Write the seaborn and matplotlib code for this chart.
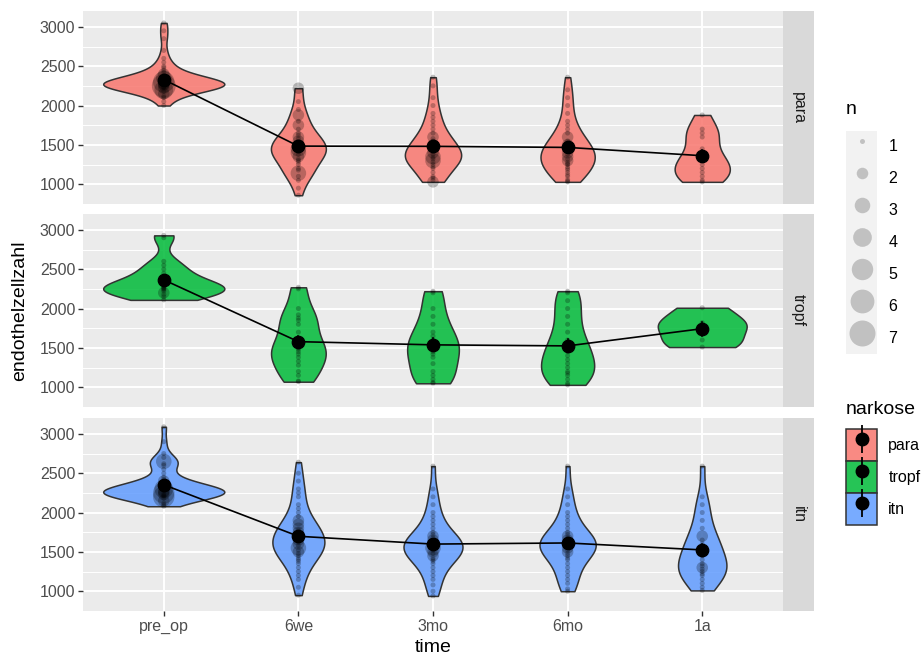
import matplotlib
matplotlib.use("Agg")
import matplotlib.pyplot as plt
import pandas as pd
import seaborn as sns
from matplotlib.patches import Patch
from matplotlib.lines import Line2D
from matplotlib.legend_handler import HandlerTuple
from matplotlib.ticker import MultipleLocator
from matplotlib.colors import to_rgba

# categorie
times = ["pre_op", "6we", "3mo", "6mo", "1a"]
groups = ["para", "tropf", "itn"]
colors = ["#F8766D", "#00BA38", "#619CFF"]

# valori (endothelzellzahl)
para_pre_op = [2000, 2050, 2100, 2120, 2150, 2150, 2180, 2200, 2200, 2200, 2220, 2220, 2230, 2240,
               2250, 2250, 2250, 2250, 2260, 2260, 2270, 2270, 2280, 2280, 2290, 2300, 2300, 2300,
               2310, 2320, 2330, 2340, 2350, 2350, 2360, 2380, 2400, 2400, 2420, 2450, 2480, 2500,
               2250, 2300, 2200, 2350, 2250, 2300,
               2550, 2600, 2700, 2850, 2950, 3050]
para_6we = [860, 950, 1050, 1100, 1140, 1140, 1140, 1180, 1200, 1250, 1280, 1300, 1320, 1350, 1380,
            1400, 1400, 1420, 1450, 1450, 1480, 1500, 1520, 1550, 1580, 1600, 1620, 1650, 1700, 1750,
            1750, 1800, 1880, 1880, 1950, 2050, 2220, 2220, 1400, 1500, 1350, 1550, 1450, 1600]
para_3mo = [1030, 1030, 1050, 1080, 1100, 1150, 1200, 1220, 1250, 1280, 1300, 1300, 1320, 1340, 1350,
            1350, 1380, 1400, 1420, 1450, 1480, 1500, 1520, 1550, 1580, 1600, 1650, 1700, 1750, 1800,
            1850, 1900, 2000, 2100, 2250, 2360, 1300, 1350, 1400, 1500, 1600]
para_6mo = [1030, 1040, 1060, 1100, 1120, 1150, 1180, 1200, 1220, 1250, 1260, 1280, 1300, 1320, 1350,
            1380, 1400, 1420, 1450, 1480, 1500, 1520, 1550, 1600, 1650, 1700, 1750, 1800, 1900, 2000,
            2100, 2200, 2360, 1300, 1350, 1400, 1500, 1600]
para_1a = [1030, 1050, 1100, 1150, 1200, 1250, 1300, 1350, 1450, 1600, 1650, 1700, 1880]

tropf_pre_op = [2110, 2150, 2180, 2200, 2200, 2220, 2240, 2250, 2260, 2270, 2280, 2300, 2320, 2350,
                2400, 2450, 2500, 2550, 2600, 2900, 2930]
tropf_6we = [1070, 1080, 1150, 1200, 1280, 1330, 1380, 1420, 1450, 1480, 1500, 1550, 1600, 1700, 1800,
             1850, 1880, 1920, 2000, 2250, 2270]
tropf_3mo = [1050, 1060, 1100, 1150, 1200, 1300, 1380, 1420, 1450, 1500, 1550, 1600, 1650, 1700, 1800,
             1900, 2000, 2200, 2220]
tropf_6mo = [1030, 1050, 1100, 1150, 1180, 1200, 1250, 1300, 1350, 1400, 1450, 1500, 1550, 1600, 1700,
             1800, 1900, 2000, 2100, 2200, 2220]
tropf_1a = [1510, 1600, 1780, 1820, 2010]

itn_pre_op = [2080, 2100, 2120, 2150, 2150, 2180, 2200, 2200, 2200, 2200, 2210, 2220, 2230, 2230, 2240,
              2250, 2250, 2250, 2250, 2260, 2260, 2270, 2270, 2280, 2290, 2300, 2300, 2300, 2310, 2320,
              2330, 2340, 2350, 2360, 2380, 2400, 2420, 2450, 2500, 2550, 2600, 2620, 2650, 2650, 2700,
              2750, 2900, 3090, 2250, 2300, 2350, 2200, 2400, 2650]
itn_6we = [950, 1050, 1150, 1200, 1250, 1300, 1350, 1380, 1400, 1420, 1450, 1480, 1500, 1500, 1520,
           1550, 1550, 1580, 1600, 1620, 1650, 1680, 1700, 1720, 1750, 1780, 1800, 1850, 1900, 1950,
           2000, 2050, 2100, 2200, 2250, 2300, 2400, 2500, 2640,
           1550, 1600, 1650, 1700, 1750, 1800, 1850, 1900]
itn_3mo = [940, 1000, 1080, 1150, 1200, 1250, 1300, 1350, 1380, 1400, 1420, 1450, 1480, 1500, 1520,
           1550, 1550, 1580, 1600, 1620, 1650, 1680, 1700, 1720, 1750, 1800, 1850, 1900, 1950, 2000,
           2100, 2200, 2300, 2590, 1500, 1550, 1600, 1650, 1700, 1450]
itn_6mo = [1000, 1030, 1100, 1150, 1200, 1250, 1300, 1350, 1400, 1420, 1450, 1480, 1500, 1520, 1550,
           1580, 1600, 1620, 1650, 1680, 1700, 1720, 1750, 1800, 1850, 1900, 1950, 2000, 2100, 2200,
           2300, 2590, 1500, 1550, 1600, 1650, 1700]
itn_1a = [1010, 1050, 1100, 1150, 1200, 1220, 1250, 1280, 1300, 1320, 1350, 1400, 1450, 1500, 1550,
          1600, 1650, 1700, 1800, 1900, 2000, 2100, 2200, 2590, 1300, 1500, 1700]

series = {
    "para": [para_pre_op, para_6we, para_3mo, para_6mo, para_1a],
    "tropf": [tropf_pre_op, tropf_6we, tropf_3mo, tropf_6mo, tropf_1a],
    "itn": [itn_pre_op, itn_6we, itn_3mo, itn_6mo, itn_1a],
}

rows = []
for g in groups:
    for t, vals in zip(times, series[g]):
        for v in vals:
            rows.append((g, t, v))
df = pd.DataFrame(rows, columns=["narkose", "time", "endothelzellzahl"])

# conteggio dei valori uguali (come geom_count)
counts = df.groupby(["narkose", "time", "endothelzellzahl"]).size().reset_index(name="n")
counts["xpos"] = counts["time"].map({t: i for i, t in enumerate(times)})

plt.rcParams["font.family"] = ["Liberation Sans", "DejaVu Sans"]

W, H = 923, 657
fig = plt.figure(figsize=(W / 100, H / 100), dpi=100)

lo, hi = df["endothelzellzahl"].min(), df["endothelzellzahl"].max()
pad = 0.05 * (hi - lo)

panel_tops = [11, 214, 418]
panel_h = 193
size_range = (13, 350)

for i, g in enumerate(groups):
    top = panel_tops[i]
    ax = fig.add_axes([83 / W, (H - top - panel_h) / H, 700 / W, panel_h / H])
    ax.set_facecolor("#EBEBEB")
    ax.set_axisbelow(True)
    sub = df[df["narkose"] == g]

    sns.violinplot(data=sub, x="time", y="endothelzellzahl", order=times, color=colors[i],
                   inner=None, cut=0, density_norm="area", width=0.9, linewidth=1.1,
                   linecolor="#333333", saturation=1, bw_method="silverman", bw_adjust=0.8, ax=ax)
    for coll in ax.collections:
        coll.set_facecolor(to_rgba(colors[i], 0.85))

    sns.scatterplot(data=counts[counts["narkose"] == g], x="xpos", y="endothelzellzahl",
                    size="n", sizes=size_range, size_norm=(1, 7), color="black", alpha=0.25,
                    linewidth=0, legend=False, ax=ax, zorder=3)

    sns.pointplot(data=sub, x="time", y="endothelzellzahl", order=times, color="black",
                  errorbar="se", markersize=9, linewidth=1.2, ax=ax)

    ax.set_xlim(-0.6, 4.6)
    ax.set_ylim(lo - pad, hi + pad)
    ax.set_yticks([1000, 1500, 2000, 2500, 3000])
    ax.yaxis.set_minor_locator(MultipleLocator(250))
    ax.grid(which="major", color="white", linewidth=1.4)
    ax.grid(which="minor", axis="y", color="white", linewidth=0.7)
    for s in ax.spines.values():
        s.set_visible(False)
    ax.set_xlabel("")
    ax.set_ylabel("")
    ax.tick_params(which="major", length=3.5, width=1, color="#333333",
                   labelcolor="#4D4D4D", labelsize=11.5, pad=2)
    ax.tick_params(which="minor", length=0)
    if i < 2:
        ax.tick_params(axis="x", length=0, labelbottom=False)

    # strip laterale
    sax = fig.add_axes([783 / W, (H - top - panel_h) / H, 31 / W, panel_h / H])
    sax.set_facecolor("#D9D9D9")
    sax.set_xticks([])
    sax.set_yticks([])
    for s in sax.spines.values():
        s.set_visible(False)
    sax.text(0.5, 0.5, g, rotation=-90, ha="center", va="center", fontsize=11.5,
             color="#1A1A1A", transform=sax.transAxes)

fig.text(20 / W, 1 - 311 / H, "endothelzellzahl", rotation=90, ha="center", va="center",
         fontsize=14, color="black")
fig.text(433 / W, 1 - 648 / H, "time", ha="center", va="center", fontsize=14, color="black")

# legenda n
n_vals = list(range(1, 8))
n_handles = []
for n in n_vals:
    area = size_range[0] + (n - 1) / 6 * (size_range[1] - size_range[0])
    n_handles.append((Patch(facecolor="#F2F2F2", edgecolor="none"),
                      Line2D([], [], marker="o", linestyle="", markersize=area ** 0.5,
                             markerfacecolor="black", markeredgewidth=0, alpha=0.2)))
leg_opts = dict(loc="upper left", frameon=False, fontsize=11.5, title_fontsize=14,
                handlelength=1.95, handleheight=2.7, labelspacing=0, handletextpad=0.7,
                borderpad=0, borderaxespad=0, alignment="left",
                handler_map={tuple: HandlerTuple(ndivide=1)})
leg_n = fig.legend(n_handles, [str(n) for n in n_vals], title="n",
                   bbox_to_anchor=(846 / W, 1 - 101 / H), **leg_opts)
leg_n._legend_box.sep = 9

# legenda narkose
k_handles = []
for c in colors:
    k_handles.append((Patch(facecolor=to_rgba(c, 0.85), edgecolor="#333333", linewidth=1.1),
                      Line2D([], [], marker="|", linestyle="", markersize=20,
                             markeredgewidth=1.3, color="black"),
                      Line2D([], [], marker="o", linestyle="", markersize=9, color="black")))
leg_k = fig.legend(k_handles, groups, title="narkose",
                   bbox_to_anchor=(846 / W, 1 - 401 / H), **leg_opts)
leg_k._legend_box.sep = 8

fig.savefig("out.png", dpi=100, facecolor="white")
